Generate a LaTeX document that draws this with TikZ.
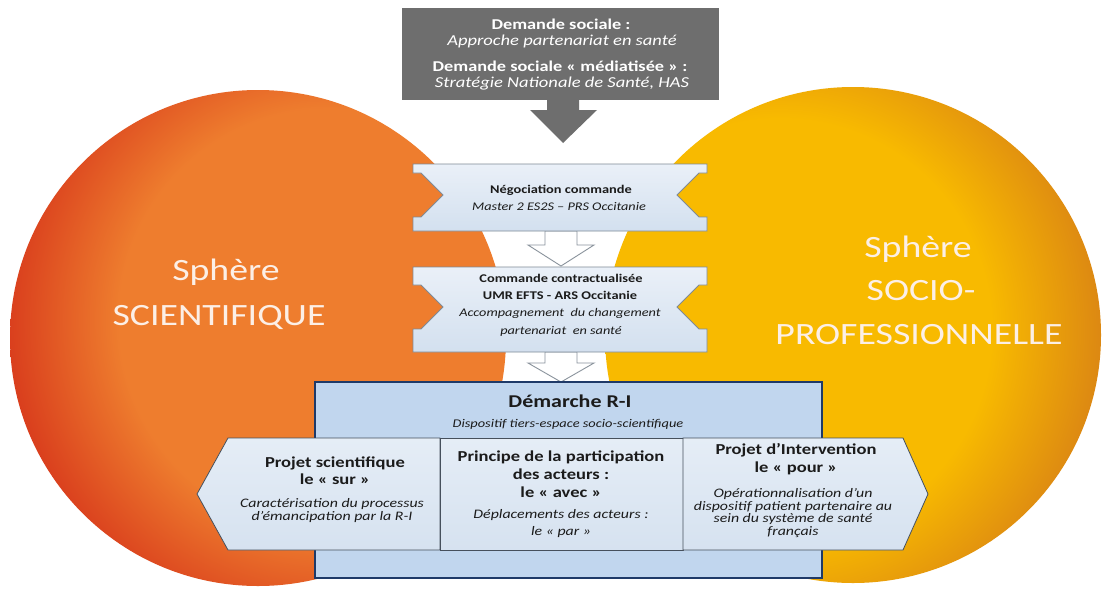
\documentclass[tikz,border=0pt]{standalone}
\usepackage{fontspec}
\setmainfont{Carlito}[FakeStretch=1.22]
\usetikzlibrary{calc}
\definecolor{sphOrange}{HTML}{EE7D2E}
\definecolor{sphRed}{HTML}{D83A1C}
\definecolor{sphYellow}{HTML}{F8BA00}
\definecolor{sphDark}{HTML}{DA8414}
\definecolor{topGray}{HTML}{6E6E6E}
\definecolor{boxTop}{HTML}{EAF0F8}
\definecolor{boxBot}{HTML}{D3E0EF}
\definecolor{boxLine}{HTML}{7F8A96}
\definecolor{demFill}{HTML}{C1D6EE}
\definecolor{demLine}{HTML}{1F3A68}
\definecolor{panTop}{HTML}{E5EDF6}
\definecolor{panBot}{HTML}{D6E2F0}
\definecolor{panLine}{HTML}{46505C}
\definecolor{txt}{HTML}{1B1B1B}
\definecolor{sphText}{HTML}{FCEFE6}
\definecolor{arrLine}{HTML}{8A939C}
\pgfdeclareradialshading{leftsph}{\pgfpoint{0bp}{0bp}}{color(0bp)=(sphOrange); color(16bp)=(sphOrange); color(25bp)=(sphRed); color(50bp)=(sphRed)}
\pgfdeclareradialshading{rightsph}{\pgfpoint{0bp}{0bp}}{color(0bp)=(sphYellow); color(16bp)=(sphYellow); color(25bp)=(sphDark); color(50bp)=(sphDark)}
\newcommand\myfs[1]{\fontsize{#1}{#1}\selectfont}
\tikzset{
  ln/.style={anchor=base, inner sep=0pt, outer sep=0pt, text=txt},
  sphtxt/.style={ln, text=sphText, font=\myfs{31}},
  topb/.style={ln, text=white, font=\bfseries\myfs{15}},
  topi/.style={ln, text=white, font=\itshape\myfs{15.2}},
  boxb/.style={ln, font=\bfseries\myfs{11.8}},
  boxi/.style={ln, font=\itshape\myfs{11.7}},
  panb/.style={ln, font=\bfseries\myfs{15.2}},
  pani/.style={ln, font=\itshape\myfs{13}},
  notchbox/.style={draw=boxLine, line width=0.9pt, top color=boxTop, bottom color=boxBot},
  panel/.style={draw=panLine, line width=0.8pt, top color=panTop, bottom color=panBot},
  hollowarrow/.style={draw=arrLine, line width=0.9pt, fill=white},
}
\begin{document}
\begin{tikzpicture}[x=1pt,y=-1pt]
\useasboundingbox (0,0) rectangle (1104,595);
\fill[white] (0,0) rectangle (1104,595);
% spheres
\begin{scope}
  \clip (258,338) circle (248pt);
  \shade[shading=leftsph] (330,320) circle (330pt);
\end{scope}
\begin{scope}
  \clip (853,335) circle (248pt);
  \shade[shading=rightsph] (780,330) circle (330pt);
\end{scope}
\node[sphtxt] (ls1) at (226,280) {Sphère};
\node[sphtxt] (ls2) at (219,325) {SCIENTIFIQUE};
\node[sphtxt] (rs1) at (918,257) {Sphère};
\node[sphtxt] (rs2) at (921,300) {SOCIO-};
\node[sphtxt] (rs3) at (919,344) {PROFESSIONNELLE};
% named anchors of the boxes
\coordinate (topS) at (563,100);
\coordinate (negN) at (561,164);
\coordinate (negS) at (561,231);
\coordinate (cmdN) at (561,267);
\coordinate (cmdS) at (561,352);
\coordinate (demN) at (561,382);
% top grey box and arrow
\fill[topGray] (402,8) rectangle (719,100);
\fill[topGray] ($(topS)+(-16,0)$) -- ($(topS)+(-16,10)$) -- ($(topS)+(-33,10)$) -- ($(negN)+(2,-21)$)
  -- ($(topS)+(34,10)$) -- ($(topS)+(16,10)$) -- ($(topS)+(16,0)$) -- cycle;
\node[topb] (t1) at (561,29) {Demande sociale :};
\node[topi] (t2) at (562,45) {Approche partenariat en santé};
\node[topb] (t3) at (560,71) {Demande sociale « médiatisée » :};
\node[topi] (t4) at (562,87) {Stratégie Nationale de Santé, HAS};
% hollow arrows
\draw[hollowarrow] ($(negS)+(-16,0)$) -- ($(negS)+(-16,14)$) -- ($(negS)+(-33,14)$) -- ($(cmdN)+(0,-1)$)
  -- ($(negS)+(33,14)$) -- ($(negS)+(16,14)$) -- ($(negS)+(16,0)$) -- cycle;
\draw[hollowarrow] ($(cmdS)+(-16,0)$) -- ($(cmdS)+(-16,11)$) -- ($(cmdS)+(-33,11)$) -- (demN)
  -- ($(cmdS)+(33,11)$) -- ($(cmdS)+(16,11)$) -- ($(cmdS)+(16,0)$) -- cycle;
% negotiation box
\draw[notchbox] (413,164) -- (707,164) -- (707,173) -- (699,173) -- (677,195) -- (699,217) -- (707,217)
  -- (707,231) -- (413,231) -- (413,217) -- (421,217) -- (443,195) -- (421,173) -- (413,173) -- cycle;
\node[boxb] (n1) at (561,193) {Négociation commande};
\node[boxi] (n2) at (559,210) {Master 2 ES2S – PRS Occitanie};
% commande box
\draw[notchbox] (413,267) -- (707,267) -- (707,285) -- (699,285) -- (677,307) -- (699,329) -- (707,329)
  -- (707,352) -- (413,352) -- (413,329) -- (421,329) -- (443,307) -- (421,285) -- (413,285) -- cycle;
\node[boxb] (c1) at (561,282) {Commande contractualisée};
\node[boxb] (c2) at (560,299) {UMR EFTS - ARS Occitanie};
\node[boxi] (c3) at (560,316) {Accompagnement\ \ du changement};
\node[boxi] (c4) at (561,334) {partenariat\ \ en santé};
% demarche box
\draw[demLine, line width=1.8pt, fill=demFill] (315,382) rectangle (822,578);
\node[ln, font=\bfseries\myfs{18}] (d1) at (570,407) {Démarche R-I};
\node[ln, font=\itshape\myfs{11.8}] (d2) at (568,427) {Dispositif tiers-espace socio-scientifique};
% panels
\draw[panel] (440,438) -- (228,438) -- (197,494) -- (228,550) -- (440,550) -- cycle;
\draw[panel] (440,438) rectangle (683,550);
\draw[panel] (683,438) -- (903,438) -- (928,494) -- (903,550) -- (683,550) -- cycle;
\node[panb] (p1) at (335,467) {Projet scientifique};
\node[panb] (p2) at (335,484) {le « sur »};
\node[pani] (p3) at (332,507) {Caractérisation du processus};
\node[pani] (p4) at (332,520) {d’émancipation par la R-I};
\node[panb] (m1) at (561,461) {Principe de la participation};
\node[panb] (m2) at (561,479) {des acteurs :};
\node[panb] (m3) at (561,497) {le « avec »};
\node[pani] (m4) at (561,518) {Déplacements des acteurs :};
\node[pani] (m5) at (561,535) {le « par »};
\node[panb] (r1) at (796,454) {Projet d’Intervention};
\node[panb] (r2) at (796,472) {le « pour »};
\node[pani] (r3) at (793,497) {Opérationnalisation d’un};
\node[pani] (r4) at (793,510) {dispositif patient partenaire au};
\node[pani] (r5) at (793,522) {sein du système de santé};
\node[pani] (r6) at (793,535) {français};
\end{tikzpicture}
\end{document}
